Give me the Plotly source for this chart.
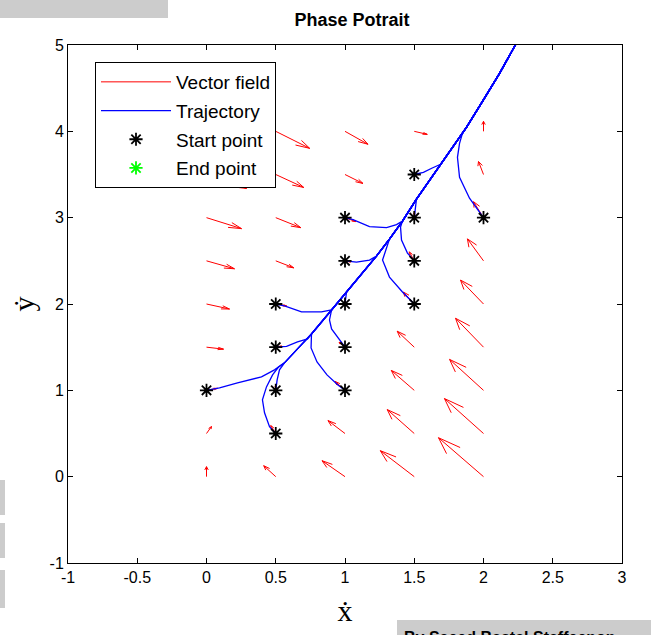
import plotly.graph_objects as go

# ---------------- data ----------------
X_GRID = [0, 0.5, 1, 1.5, 2]
Y_GRID = [0, 0.5, 1, 1.5, 2, 2.5, 3, 3.5, 4]

# vector field components (rows follow Y_GRID, columns follow X_GRID)
U = [
    [0.000, -0.087, -0.166, -0.245, -0.325],
    [0.036, -0.036, -0.123, -0.195, -0.282],
    [0.079, 0.000, -0.072, -0.166, -0.245],
    [0.123, 0.043, -0.043, -0.123, -0.202],
    [0.166, 0.079, 0.000, -0.079, -0.166],
    [0.202, 0.130, 0.043, -0.036, -0.116],
    [0.253, 0.181, 0.079, 0.000, -0.072],
    [0.289, 0.202, 0.130, 0.036, -0.036],
    [0.332, 0.245, 0.166, 0.094, 0.000],
]
V = [
    [0.116, 0.127, 0.185, 0.301, 0.451],
    [0.081, 0.092, 0.150, 0.277, 0.405],
    [0.023, 0.058, 0.104, 0.231, 0.358],
    [-0.023, 0.012, 0.058, 0.185, 0.335],
    [-0.058, -0.023, 0.035, 0.139, 0.277],
    [-0.092, -0.081, -0.012, 0.104, 0.254],
    [-0.127, -0.116, -0.046, 0.058, 0.185],
    [-0.162, -0.150, -0.104, 0.000, 0.150],
    [-0.208, -0.197, -0.150, -0.035, 0.116],
]

# start points
START_X = [0, 0.5, 0.5, 0.5, 1, 0.5, 1, 1, 1, 1.5, 1.5, 1, 1.5, 1.5, 2]
START_Y = [1, 0.5, 1, 1.5, 1, 2, 1.5, 2, 2.5, 2, 2.5, 3, 3, 3.5, 3]

# common curve every trajectory ends up following
SPINE_X = [0.563, 0.657, 0.758, 0.903, 1.011, 1.119, 1.227, 1.321, 1.415,
           1.516, 1.690, 1.877, 1.993, 2.116, 2.224, 2.274]
SPINE_Y = [1.318, 1.480, 1.653, 1.931, 2.139, 2.347, 2.555, 2.751, 2.960,
           3.214, 3.618, 4.046, 4.347, 4.671, 4.983, 5.121]

# approach part of each trajectory (same order as START_*) and where it meets the spine
APPROACH_X = [
    [0, 0.094, 0.224, 0.397, 0.491],
    [0.5, 0.455, 0.419, 0.404, 0.433, 0.477, 0.52],
    [0.5, 0.51, 0.527],
    [0.5, 0.578, 0.657, 0.730],
    [1, 0.949, 0.870, 0.798, 0.755],
    [0.5, 0.563, 0.686, 0.830],
    [1, 0.960, 0.903, 0.888],
    [1, 1.005],
    [1, 1.083, 1.177],
    [1.5, 1.415, 1.321, 1.271],
    [1.5, 1.451, 1.408, 1.401],
    [1, 1.058, 1.177, 1.300, 1.372],
    [1.5, 1.508],
    [1.5, 1.566, 1.63],
    [2, 1.899, 1.827, 1.812, 1.827, 1.848],
]
APPROACH_Y = [
    [1, 1.029, 1.087, 1.156, 1.237],
    [0.5, 0.578, 0.740, 0.890, 1.040, 1.179, 1.27],
    [1, 1.12, 1.237],
    [1.5, 1.51, 1.561, 1.595],
    [1, 1.063, 1.179, 1.329, 1.491],
    [2, 1.977, 1.908, 1.908],
    [1.5, 1.584, 1.711, 1.815],
    [2, 2.07],
    [2.5, 2.486, 2.509],
    [2, 2.139, 2.312, 2.509],
    [2.5, 2.590, 2.740, 2.890],
    [3, 2.977, 2.896, 2.884, 2.919],
    [3, 3.1],
    [3.5, 3.526, 3.575],
    [3, 3.225, 3.468, 3.699, 3.861, 3.977],
]
JOIN_INDEX = [0, 0, 0, 2, 2, 3, 3, 4, 6, 7, 8, 8, 9, 10, 11]

END_X = [2.6]
END_Y = [6.0]

X_TICKS = [-1, -0.5, 0, 0.5, 1, 1.5, 2, 2.5, 3]
X_TICK_TEXT = ["-1", "-0.5", "0", "0.5", "1", "1.5", "2", "2.5", "3"]
Y_TICKS = [-1, 0, 1, 2, 3, 4, 5]
Y_TICK_TEXT = ["-1", "0", "1", "2", "3", "4", "5"]

# ---------------- build ----------------
ALPHA, BETA = 0.33, 0.33
vx, vy = [], []
for j, yv in enumerate(Y_GRID):
    for i, xv in enumerate(X_GRID):
        u, v = U[j][i], V[j][i]
        ex, ey = xv + u, yv + v
        vx += [xv, ex, None, ex - ALPHA * (u + BETA * v), ex, ex - ALPHA * (u - BETA * v), None]
        vy += [yv, ey, None, ey - ALPHA * (v - BETA * u), ey, ey - ALPHA * (v + BETA * u), None]

tx, ty = [], []
for ax_, ay_, k in zip(APPROACH_X, APPROACH_Y, JOIN_INDEX):
    tx += ax_ + SPINE_X[k:] + [None]
    ty += ay_ + SPINE_Y[k:] + [None]

FONT = "Liberation Sans, Arial, sans-serif"

fig = go.Figure()
fig.add_trace(go.Scatter(x=vx, y=vy, mode="lines", name="Vector field",
                         line=dict(color="#ff0000", width=1), legendgroup="a"))
fig.add_trace(go.Scatter(x=tx, y=ty, mode="lines", name="Trajectory",
                         line=dict(color="#0000ff", width=1.3), legendgroup="b"))
fig.add_trace(go.Scatter(x=START_X, y=START_Y, mode="markers", name="Start point",
                         marker=dict(symbol="asterisk-open", size=11, color="black",
                                     line=dict(color="black", width=1.8)), legendgroup="c"))
fig.add_trace(go.Scatter(x=END_X, y=END_Y, mode="markers", name="End point",
                         marker=dict(symbol="asterisk-open", size=11, color="#00ff00",
                                     line=dict(color="#00ff00", width=1.8)), legendgroup="d"))

L, R, T, B = 68, 622, 45, 563
W, H = 651, 635
pw, ph = R - L, B - T


def px(xp):
    return (xp - L) / pw


def py(yp):
    return (B - yp) / ph


shapes = []
for (x0, y0, x1, y1) in [(0, 0, 168, 18), (397, 620, 651, 640),
                         (0, 480, 5, 515), (0, 523, 5, 558), (0, 570, 5, 608)]:
    shapes.append(dict(type="rect", xref="paper", yref="paper",
                       x0=px(x0), x1=px(x1), y0=py(y1), y1=py(y0),
                       fillcolor="#cccccc", line=dict(width=0), layer="above"))

axis_common = dict(showline=True, linecolor="black", linewidth=1, mirror="ticks",
                   ticks="inside", ticklen=5, tickcolor="black", showgrid=False,
                   zeroline=False, tickfont=dict(family=FONT, size=16, color="black"))

fig.update_layout(
    width=W, height=H, autosize=False,
    margin=dict(l=L, r=W - R, t=T, b=H - B),
    paper_bgcolor="white", plot_bgcolor="white",
    title=dict(text="<b>Phase Potrait</b>", x=px(352), xref="paper", xanchor="center",
               y=1 - 20 / H, yanchor="middle",
               font=dict(family=FONT, size=18, color="black")),
    xaxis=dict(range=[-1, 3], tickvals=X_TICKS, ticktext=X_TICK_TEXT,
               title=dict(text="ẋ", font=dict(family="Liberation Serif, serif", size=30, color="black"),
                          standoff=14),
               **axis_common),
    yaxis=dict(range=[-1, 5], tickvals=Y_TICKS, ticktext=Y_TICK_TEXT,
               title=dict(text="ẏ", font=dict(family="Liberation Serif, serif", size=30, color="black"),
                          standoff=6),
               **axis_common),
    showlegend=True,
    legend=dict(x=px(95), y=py(62), xanchor="left", yanchor="top",
                bgcolor="white", bordercolor="black", borderwidth=1,
                font=dict(family=FONT, size=19, color="black"),
                itemwidth=70, traceorder="grouped", tracegroupgap=1),
    shapes=shapes,
    annotations=[dict(text="<b>By Saeed Bastal Staffeenon</b>", xref="paper", yref="paper",
                      x=px(402), y=py(627), xanchor="left", yanchor="top", showarrow=False,
                      font=dict(family=FONT, size=16, color="black"))],
)

fig.write_html("out.html")
